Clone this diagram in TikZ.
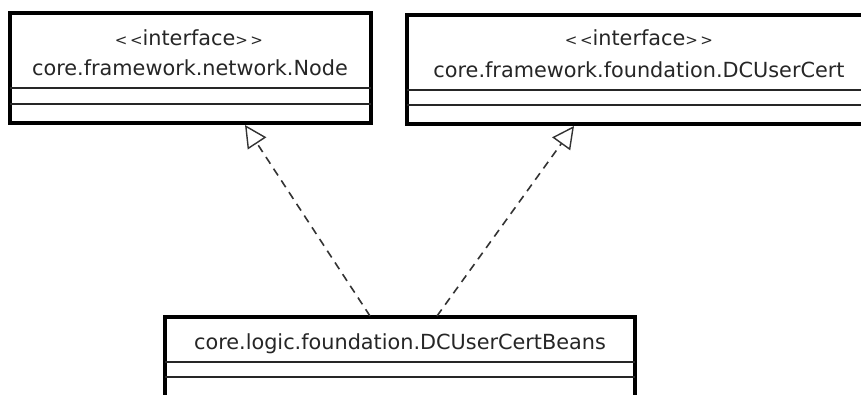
\documentclass[tikz,border=0pt]{standalone}
\usepackage{fontspec}
\setmainfont{DejaVu Sans}
\usetikzlibrary{arrows.meta}
\newcommand{\smallang}[1]{{\fontsize{15}{16}\selectfont #1}}
\begin{document}
\begin{tikzpicture}[x=1pt,y=-1pt,
  box/.style={draw=black,line width=3.2pt,fill=white},
  sep/.style={draw=black!85,line width=1.4pt},
  lbl/.style={font=\fontsize{20.8}{22}\selectfont,text=black!85,inner sep=0pt,anchor=base},
  real/.style={draw=black!80,line width=1.6pt,dash pattern=on 8pt off 6pt,
    -{Triangle[open,length=22pt,width=22pt,line width=1.4pt]}}]
\clip (0,0) rectangle (861,394);
\fill[white] (0,0) rectangle (861,394);
% box 1
\draw[box] (10,13) rectangle (371,123);
\draw[sep] (10,88) -- (371,88);
\draw[sep] (10,104) -- (371,104);
\node[lbl] (i1) at (189,45) {\smallang{<\,<}interface\smallang{>\,>}};
\node[lbl] (n1) at (190,75) {core.framework.network.Node};
% box 2
\draw[box] (407,15) rectangle (870,124);
\draw[sep] (407,90) -- (870,90);
\draw[sep] (407,105) -- (870,105);
\node[lbl] (i2) at (639,45) {\smallang{<\,<}interface\smallang{>\,>}};
\node[lbl] (n2) at (639,77) {core.framework.foundation.DCUserCert};
% box 3
\draw[box] (165,317) rectangle (635,400);
\draw[sep] (165,362) -- (635,362);
\draw[sep] (165,377) -- (635,377);
\node[lbl] (n3) at (400,349) {core.logic.foundation.DCUserCertBeans};
% connectors
\coordinate (s1) at (370,316);
\coordinate (t1) at (245,125);
\coordinate (s2) at (437,316);
\coordinate (t2) at (574,126);
\draw[real] (s1) -- (t1);
\draw[real] (s2) -- (t2);
\end{tikzpicture}
\end{document}
